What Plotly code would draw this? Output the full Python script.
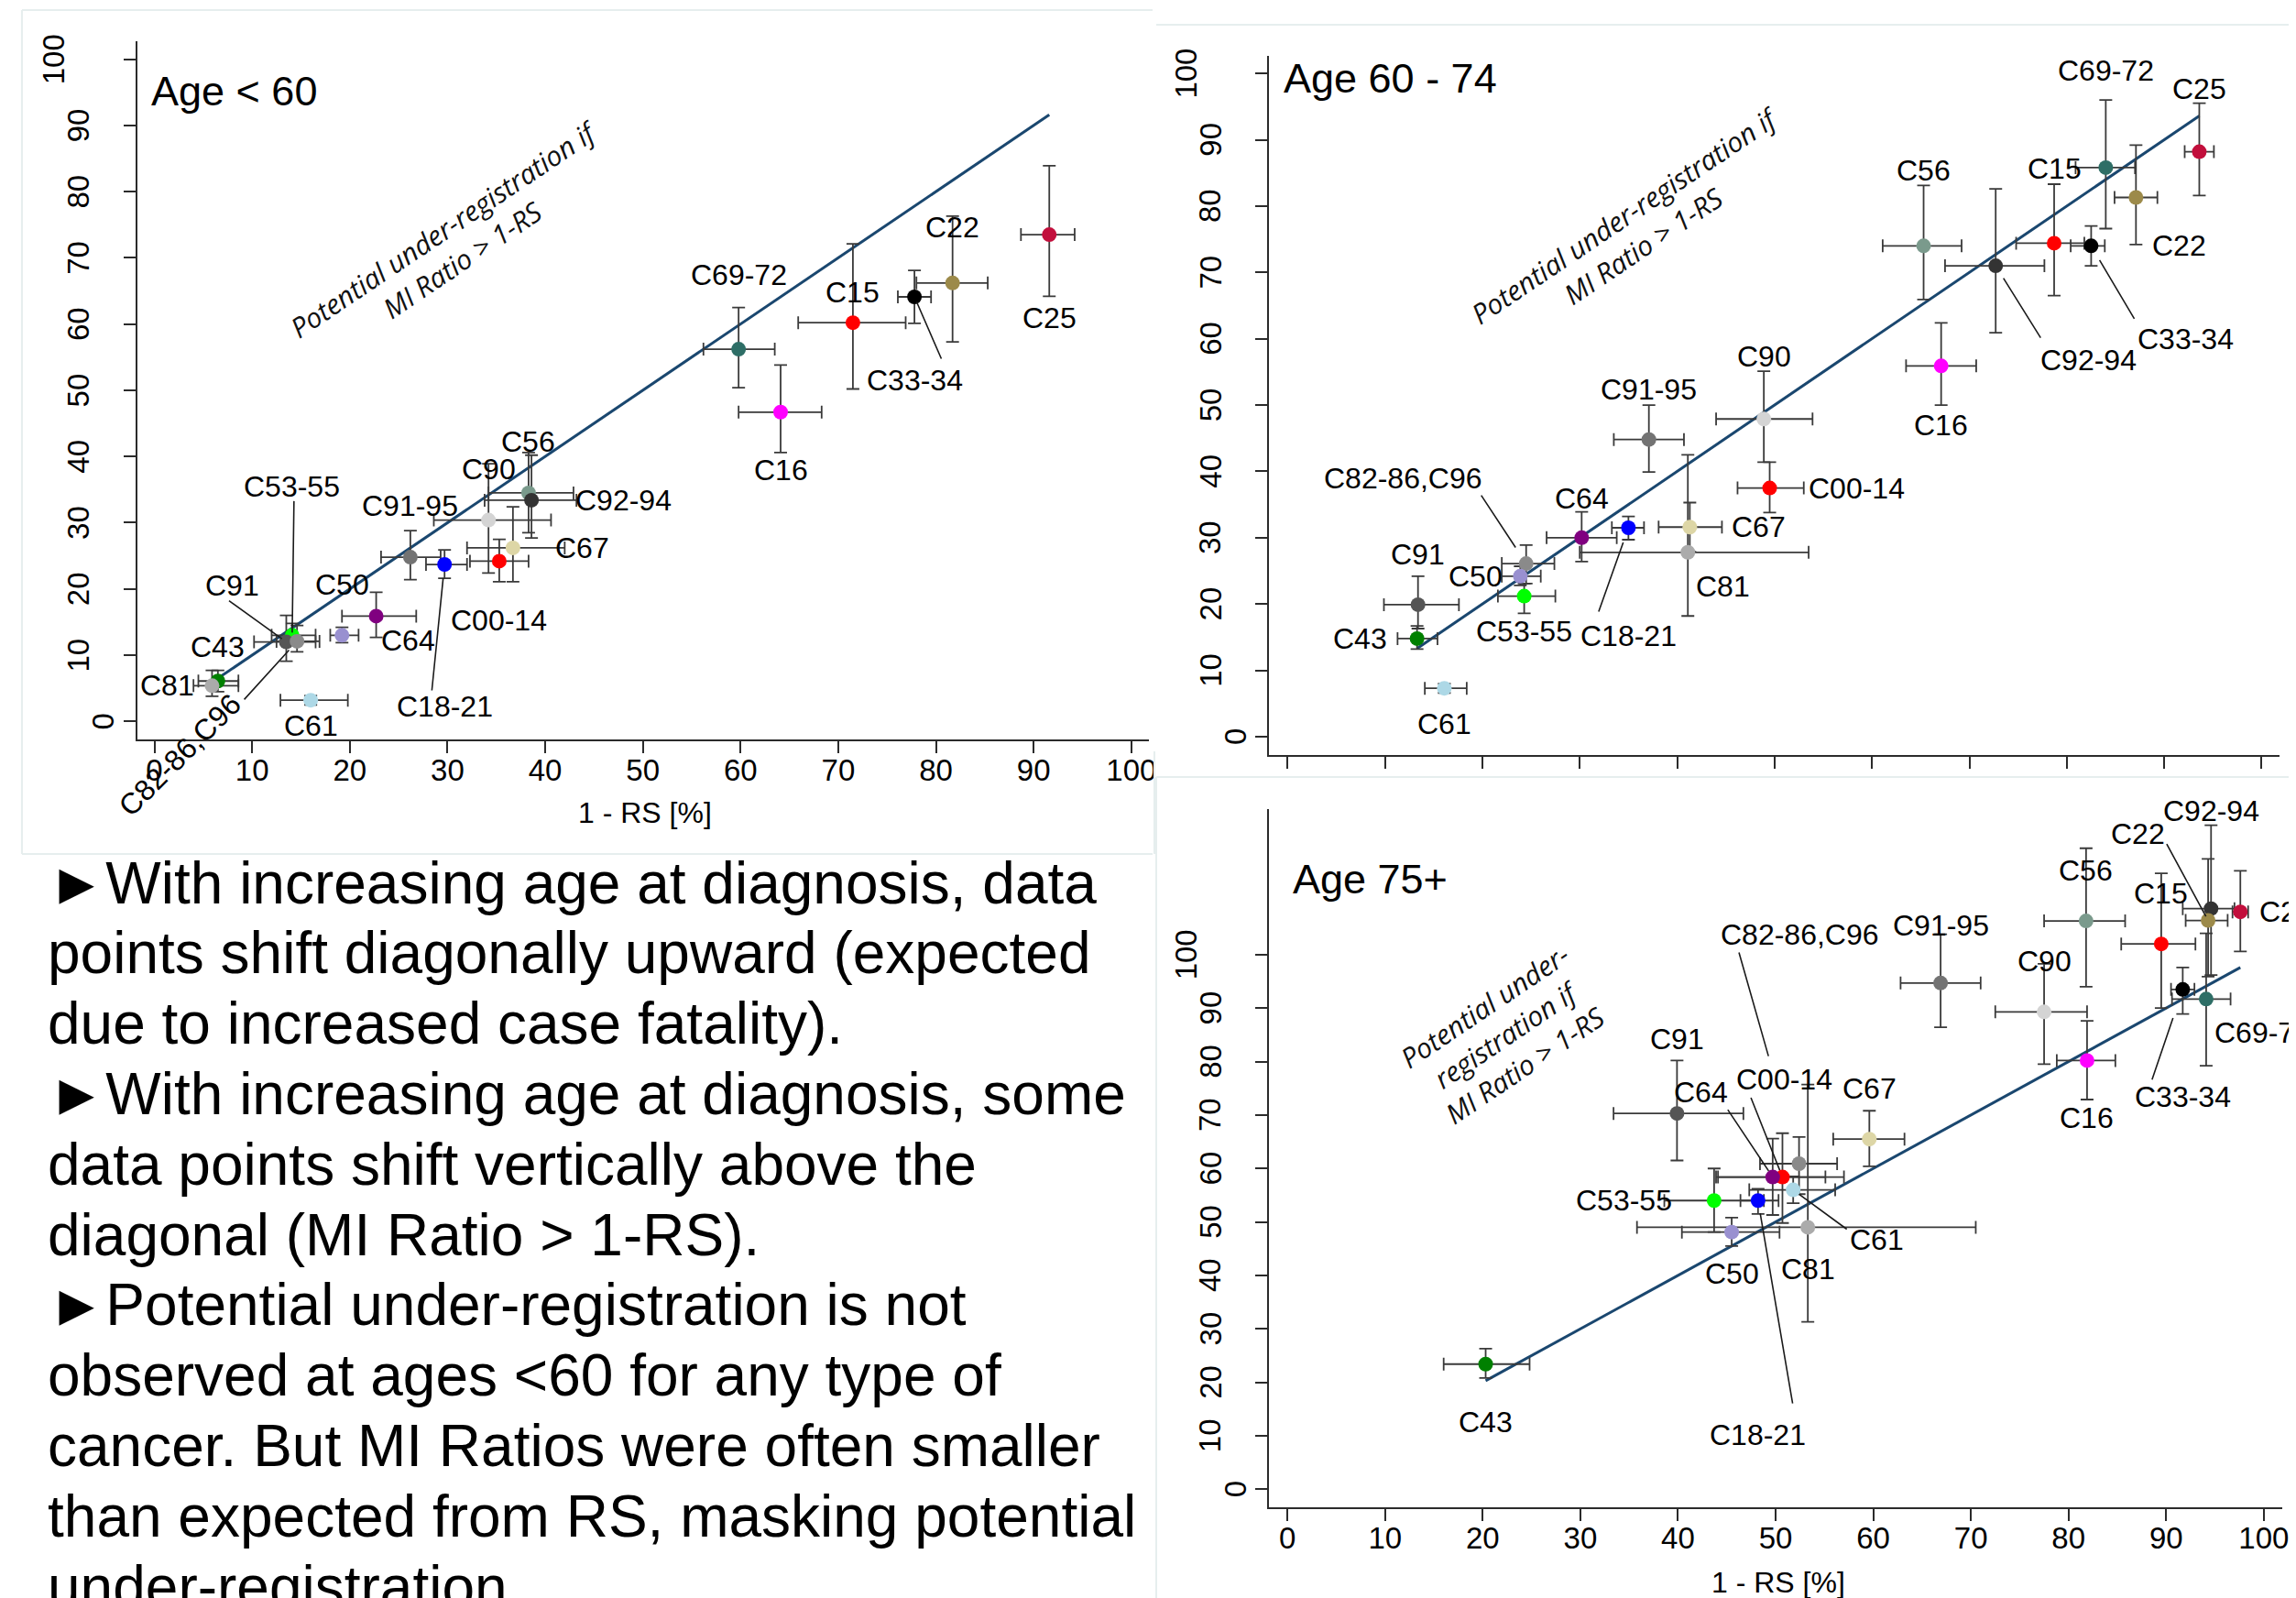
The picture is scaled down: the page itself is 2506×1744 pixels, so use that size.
import plotly.graph_objects as go

W, H = 2506, 1744
SANS = "Liberation Sans, Arial, Helvetica, sans-serif"

# ------------------------------------------------------------------ data
# Age < 60
p1_codes = ["C53-55", "C25", "C22", "C33-34", "C15", "C69-72", "C16", "C56", "C92-94", "C90",
            "C67", "C00-14", "C18-21", "C91-95", "C64", "C50", "C91", "C82-86,C96", "C43", "C81", "C61"]
p1_x   = [14.1, 91.6, 81.7, 77.8, 71.5, 59.8, 64.1, 38.3, 38.6, 34.2, 36.7, 35.3, 29.7, 26.2, 22.7, 19.2, 13.5, 14.6, 6.5, 5.9, 16.0]
p1_y   = [13.0, 73.5, 66.2, 64.1, 60.2, 56.2, 46.7, 34.5, 33.4, 30.4, 26.2, 24.2, 23.7, 24.8, 15.9, 13.0, 12.0, 12.1, 6.1, 5.4, 3.2]
p1_xlo = [12.0, 88.7, 78.0, 76.1, 65.9, 56.2, 59.8, 34.2, 33.8, 28.6, 32.0, 32.3, 27.8, 23.2, 19.2, 18.0, 10.2, 12.5, 4.5, 4.0, 12.9]
p1_xhi = [16.5, 94.2, 85.3, 79.5, 76.9, 63.5, 68.3, 42.9, 43.2, 40.6, 42.0, 38.3, 32.0, 29.3, 26.8, 20.9, 16.5, 16.9, 8.6, 8.6, 19.8]
p1_ylo = [11.5, 64.2, 57.3, 60.1, 50.2, 50.4, 40.6, 28.5, 27.7, 22.4, 21.1, 21.1, 21.6, 21.4, 12.7, 11.9, 9.1, 10.5, 4.5, 3.8, 2.5]
p1_yhi = [14.8, 83.9, 76.3, 68.1, 72.1, 62.5, 53.8, 40.6, 40.2, 38.9, 32.4, 27.5, 25.9, 28.8, 19.5, 14.2, 16.0, 14.5, 7.7, 7.7, 3.9]

# Age 60 - 74
p2_codes = ["C25", "C69-72", "C22", "C15", "C33-34", "C92-94", "C56", "C16", "C90", "C00-14", "C91-95",
            "C81", "C67", "C18-21", "C64", "C82-86,C96", "C50", "C53-55", "C91", "C43", "C61"]
p2_x   = [93.6, 84.0, 87.1, 78.7, 82.5, 72.7, 65.3, 67.1, 48.9, 49.5, 37.1, 41.1, 41.3, 35.0, 30.2, 24.5, 23.9, 24.3, 13.4, 13.3, 16.1]
p2_y   = [88.2, 85.8, 81.3, 74.4, 74.0, 71.0, 74.0, 55.9, 47.9, 37.5, 44.8, 27.8, 31.6, 31.5, 30.0, 26.1, 24.2, 21.2, 19.9, 14.8, 7.3]
p2_xlo = [92.1, 80.9, 84.9, 74.8, 80.4, 67.5, 61.1, 63.5, 44.0, 46.2, 33.5, 30.0, 38.1, 33.3, 26.6, 22.0, 22.0, 21.6, 9.9, 11.3, 14.1]
p2_xhi = [95.1, 87.0, 89.3, 81.8, 83.9, 77.7, 69.2, 70.7, 53.9, 53.0, 40.7, 53.5, 44.6, 36.6, 33.8, 27.4, 26.0, 27.5, 17.6, 15.4, 18.4]
p2_ylo = [81.6, 76.6, 74.2, 66.5, 71.0, 60.9, 65.9, 50.0, 41.4, 33.8, 39.9, 18.2, 27.9, 29.7, 26.4, 23.1, 22.8, 18.6, 16.3, 13.2, 6.6]
p2_yhi = [95.5, 96.0, 89.2, 83.3, 77.0, 82.6, 83.1, 62.4, 55.1, 41.4, 50.0, 42.5, 35.3, 33.2, 33.9, 28.9, 25.7, 23.1, 24.2, 16.7, 8.0]

# Age 75+
p3_codes = ["C43", "C50", "C53-55", "C18-21", "C81", "C61", "C00-14", "C64", "C82-86,C96", "C67", "C91",
            "C16", "C90", "C91-95", "C69-72", "C33-34", "C15", "C56", "C92-94", "C22", "C25"]
p3_x   = [20.3, 45.5, 43.7, 48.2, 53.3, 51.8, 50.7, 49.7, 52.4, 59.6, 39.9, 81.9, 77.5, 66.9, 94.1, 91.7, 89.5, 81.8, 94.6, 94.3, 97.6]
p3_y   = [23.4, 48.1, 54.0, 54.0, 49.0, 56.0, 58.4, 58.4, 60.9, 65.5, 70.3, 80.2, 89.3, 94.7, 91.7, 93.5, 102.0, 106.3, 108.6, 106.4, 108.0]
p3_xlo = [16.0, 40.4, 38.6, 46.4, 35.8, 47.3, 43.9, 44.1, 48.4, 55.9, 33.4, 78.8, 72.5, 62.8, 90.6, 90.5, 85.4, 77.5, 91.7, 92.0, 96.8]
p3_xhi = [24.8, 50.4, 48.8, 50.3, 70.5, 56.1, 57.0, 55.1, 56.3, 63.2, 46.7, 84.8, 81.9, 71.0, 96.6, 92.9, 93.0, 85.8, 97.0, 96.3, 98.4]
p3_ylo = [20.8, 45.5, 48.1, 51.5, 31.3, 53.5, 49.8, 51.3, 55.2, 60.4, 61.5, 72.9, 79.5, 86.4, 79.2, 88.9, 90.0, 94.0, 96.2, 95.9, 100.6]
p3_yhi = [26.3, 50.8, 60.0, 56.2, 75.7, 58.5, 66.6, 65.6, 65.9, 70.8, 80.2, 87.6, 98.3, 103.8, 104.0, 97.6, 115.2, 119.9, 124.2, 117.9, 115.7]

tick_vals = [0, 10, 20, 30, 40, 50, 60, 70, 80, 90, 100]
panel_titles = ["Age &lt; 60", "Age 60 - 74", "Age 75+"]
x_title = "1 - RS [%]"
note_two = "<i>Potential under-registration if<br>MI Ratio &gt; 1-RS</i>"
note_three = "<i>Potential under-<br>registration if<br>MI Ratio &gt; 1-RS</i>"
text_lines = [
    "\u25BAWith increasing age at diagnosis, data",
    "points shift diagonally upward (expected",
    "due to increased case fatality).",
    "\u25BAWith increasing age at diagnosis, some",
    "data points shift vertically above the",
    "diagonal (MI Ratio &gt; 1-RS).",
    "\u25BAPotential under-registration is not",
    "observed at ages &lt;60 for any type of",
    "cancer. But MI Ratios were often smaller",
    "than expected from RS, masking potential",
    "under-registration",
]

# ------------------------------------------------------------------ styles
COLORS = {
    "C25": "#c20f3c", "C22": "#9c8a4a", "C33-34": "#000000", "C15": "#ff0000",
    "C69-72": "#2e6e66", "C16": "#ff00ff", "C56": "#7a9a8c", "C92-94": "#333333",
    "C90": "#d4d4d4", "C67": "#ddd6a6", "C00-14": "#ff0000", "C18-21": "#0000ff",
    "C91-95": "#737373", "C64": "#800080", "C50": "#9990d0", "C53-55": "#00ff00",
    "C91": "#555555", "C82-86,C96": "#8a8a8a", "C43": "#008000", "C81": "#ababab",
    "C61": "#add8e6",
}
LABEL_SIZE = 32
TICK_SIZE = 33

# label offsets in screen px: (dx, dy-down, leader(tail dx, tail dy, standoff) or None, angle)
LAB1 = {
    "C25": (0, 91, None, 0), "C22": (0, -61, None, 0), "C33-34": (0, 91, (30, 69, 6), 0),
    "C15": (0, -33, None, 0), "C69-72": (0, -81, None, 0), "C16": (0, 63, None, 0),
    "C56": (0, -56, None, 0), "C92-94": (100, 0, None, 0), "C90": (0, -56, None, 0),
    "C91-95": (0, -56, None, 0), "C67": (76, 0, None, 0), "C00-14": (0, 65, None, 0),
    "C18-21": (0, 155, (-14, 139, 15), 0), "C64": (35, 27, None, 0), "C50": (0, -55, None, 0),
    "C53-55": (0, -162, (2, -148, 3), 0), "C91": (-59, -62, (-64, -46, 6), 0),
    "C43": (0, -37, None, 0), "C81": (-49, 0, None, 0), "C61": (0, 28, None, 0),
    "C82-86,C96": (-128, 124, (-59, 65, 13), -45),
}
LAB2 = {
    "C69-72": (0, -106, None, 0), "C25": (0, -69, None, 0), "C15": (0, -81, None, 0),
    "C22": (47, 53, None, 0), "C33-34": (103, 102, (48, 81, 18), 0),
    "C92-94": (101, 103, (50, 80, 16), 0), "C56": (0, -82, None, 0), "C16": (0, 65, None, 0),
    "C90": (0, -68, None, 0), "C00-14": (95, 0, None, 0), "C91-95": (0, -55, None, 0),
    "C67": (75, 0, None, 0), "C81": (38, 37, None, 0), "C18-21": (0, 118, (-33, 93, 17), 0),
    "C64": (0, -43, None, 0), "C82-86,C96": (-134, -93, (-50, -76, 21), 0),
    "C50": (-49, 0, None, 0), "C53-55": (0, 38, None, 0), "C91": (0, -55, None, 0),
    "C43": (-62, 0, None, 0), "C61": (0, 39, None, 0),
}
LAB3 = {
    "C92-94": (0, -107, None, 0), "C22": (-77, -95, (-46, -85, 5), 0), "C25": (50, 0, None, 0),
    "C56": (0, -55, None, 0), "C15": (0, -55, None, 0), "C91-95": (0, -63, None, 0),
    "C90": (0, -55, None, 0), "C69-72": (62, 37, None, 0), "C33-34": (0, 117, (-34, 100, 33), 0),
    "C16": (0, 63, None, 0), "C82-86,C96": (1, -250, (-66, -232, 122), 0),
    "C64": (-78, -93, (-50, -75, 8), 0), "C00-14": (2, -107, (-35, -88, 8), 0),
    "C67": (0, -55, None, 0), "C91": (0, -81, None, 0), "C53-55": (-98, 0, None, 0),
    "C61": (91, 54, (60, 44, 8), 0), "C50": (0, 45, None, 0), "C81": (0, 46, None, 0),
    "C18-21": (0, 256, (38, 223, 14), 0), "C43": (0, 63, None, 0),
}

# panel geometry in screen pixels (axis lines) + data ranges
panels = [
    dict(codes=p1_codes, x=p1_x, y=p1_y, xlo=p1_xlo, xhi=p1_xhi, ylo=p1_ylo, yhi=p1_yhi, lab=LAB1,
         xs="x", ys="y", xpx=(142, 1250), ypx=(37, 799), xr=[-1.78, 101.8], yr=[-2.72, 102.7],
         xlabels=True, title_pos=(155, 92), note=note_two, note_pos=(489, 258), xt_pos=(698, 879)),
    dict(codes=p2_codes, x=p2_x, y=p2_y, xlo=p2_xlo, xhi=p2_xhi, ylo=p2_ylo, yhi=p2_yhi, lab=LAB2,
         xs="x2", ys="y2", xpx=(1381.7, 2488), ypx=(53.3, 816), xr=[-1.875, 101.84], yr=[-2.76, 102.6],
         xlabels=False, title_pos=(1395, 78), note=note_two, note_pos=(1782, 243), xt_pos=None),
    dict(codes=p3_codes, x=p3_x, y=p3_y, xlo=p3_xlo, xhi=p3_xhi, ylo=p3_ylo, yhi=p3_yhi, lab=LAB3,
         xs="x3", ys="y3", xpx=(1381.7, 2490.7), ypx=(874.6, 1637.3), xr=[-1.87, 101.87], yr=[-3.43, 127.3],
         xlabels=True, title_pos=(1405, 952), note=note_three, note_pos=(1639, 1122), xt_pos=(1939, 1719)),
]

def px(xp):
    return xp / W

def py(yp):
    return 1 - yp / H

fig = go.Figure()
annotations = []
layout_axes = {}
ERR = "#3a3a3a"

for i, p in enumerate(panels):
    xs, ys = p["xs"], p["ys"]
    # diagonal reference line y = x, spanning the plotted cancers (from C43 to the largest 1-RS)
    x0 = p["x"][p["codes"].index("C43")]
    x1 = max(p["x"])
    fig.add_trace(go.Scatter(x=[x0, x1], y=[x0, x1], mode="lines", xaxis=xs, yaxis=ys,
                             line=dict(color="#1a476f", width=3), hoverinfo="skip", showlegend=False))
    fig.add_trace(go.Scatter(
        x=p["x"], y=p["y"], mode="markers", xaxis=xs, yaxis=ys, showlegend=False,
        text=p["codes"],
        marker=dict(size=16, color=[COLORS[c] for c in p["codes"]], line=dict(width=0)),
        error_x=dict(type="data", symmetric=False,
                     array=[h - v for h, v in zip(p["xhi"], p["x"])],
                     arrayminus=[v - l for l, v in zip(p["xlo"], p["x"])],
                     color=ERR, thickness=1.8, width=7),
        error_y=dict(type="data", symmetric=False,
                     array=[h - v for h, v in zip(p["yhi"], p["y"])],
                     arrayminus=[v - l for l, v in zip(p["ylo"], p["y"])],
                     color=ERR, thickness=1.8, width=7),
    ))

    suffix = "" if i == 0 else str(i + 1)
    common = dict(showline=True, linecolor="#2b2b2b", linewidth=2, ticks="outside", ticklen=13,
                  tickwidth=2, tickcolor="#2b2b2b", showgrid=False, zeroline=False,
                  tickvals=tick_vals, fixedrange=True,
                  tickfont=dict(family=SANS, size=TICK_SIZE, color="black"))
    layout_axes["xaxis" + suffix] = dict(common, domain=[px(p["xpx"][0]), px(p["xpx"][1])], range=p["xr"],
                                         anchor=ys, showticklabels=p["xlabels"], ticklabelstandoff=-10)
    layout_axes["yaxis" + suffix] = dict(common, domain=[py(p["ypx"][1]), py(p["ypx"][0])], range=p["yr"],
                                         anchor=xs, showticklabels=False)

    # rotated y tick labels
    for v in tick_vals:
        s = str(v)
        cx = p["xpx"][0] - 37.5 - 26.8 * (len(s) - 1)
        annotations.append(dict(x=px(cx), xref="paper", y=v, yref=ys, text=s, textangle=-90,
                                showarrow=False, xanchor="center", yanchor="middle",
                                font=dict(family=SANS, size=TICK_SIZE, color="black")))

    # panel title
    tx, ty = p["title_pos"]
    annotations.append(dict(x=px(tx), y=py(ty), xref="paper", yref="paper", text=panel_titles[i],
                            showarrow=False, xanchor="left", yanchor="middle",
                            font=dict(family=SANS, size=45, color="black")))
    # diagonal note
    nx, ny = p["note_pos"]
    annotations.append(dict(x=px(nx), y=py(ny), xref="paper", yref="paper", text=p["note"],
                            showarrow=False, xanchor="center", yanchor="middle", textangle=-34,
                            align="center", font=dict(family="Open Sans, sans-serif", size=30, color="#111111")))
    # x-axis title
    if p["xt_pos"]:
        ax_, ay_ = p["xt_pos"]
        annotations.append(dict(x=px(ax_), y=py(ay_), xref="paper", yref="paper", text=x_title,
                                showarrow=False, xanchor="center", yanchor="middle",
                                font=dict(family=SANS, size=32, color="black")))

    # point labels + leader lines
    for c, xv, yv in zip(p["codes"], p["x"], p["y"]):
        dx, dy, leader, ang = p["lab"][c]
        annotations.append(dict(x=xv, y=yv, xref=xs, yref=ys, text=c, showarrow=False,
                                xshift=dx, yshift=-dy, textangle=ang,
                                xanchor="center", yanchor="middle",
                                font=dict(family=SANS, size=LABEL_SIZE, color="black")))
        if leader:
            lx, ly, so = leader
            annotations.append(dict(x=xv, y=yv, xref=xs, yref=ys, text="", showarrow=True,
                                    arrowhead=0, ax=lx, ay=ly, standoff=so, arrowwidth=1.6,
                                    arrowcolor="#1a1a1a", font=dict(size=1)))

# bullet text block (one annotation per slide line)
for k, line in enumerate(text_lines):
    base = 977.5 + 76.8 * k
    annotations.append(dict(x=px(42), y=py(base - 22), xref="paper", yref="paper", text=line,
                            showarrow=False, xanchor="left", yanchor="middle",
                            font=dict(family=SANS, size=64, color="black")))

FRAME = dict(color="#e6eeee", width=2)
shapes = [
    # faint slide frames around the pasted panels
    dict(type="line", xref="paper", yref="paper", x0=px(16), x1=px(1254), y0=py(3), y1=py(3), line=FRAME),
    dict(type="line", xref="paper", yref="paper", x0=px(16), x1=px(1254), y0=py(924), y1=py(924), line=FRAME),
    dict(type="line", xref="paper", yref="paper", x0=px(16), x1=px(16), y0=py(3), y1=py(924), line=FRAME),
    dict(type="rect", xref="paper", yref="paper", x0=px(1256), x1=px(1300), y0=py(870), y1=py(812),
         fillcolor="white", line=dict(width=0), layer="above"),
    dict(type="line", xref="paper", yref="paper", x0=px(1256), x1=px(1256), y0=py(812), y1=py(924), line=FRAME),
    dict(type="line", xref="paper", yref="paper", x0=px(1258), x1=px(2506), y0=py(19), y1=py(19), line=FRAME),
    dict(type="line", xref="paper", yref="paper", x0=px(1258), x1=px(2506), y0=py(840), y1=py(840), line=FRAME),
    dict(type="line", xref="paper", yref="paper", x0=px(1258), x1=px(1258), y0=py(840), y1=py(1744), line=FRAME),
]

fig.update_layout(
    width=W, height=H, margin=dict(l=0, r=0, t=0, b=0),
    paper_bgcolor="white", plot_bgcolor="white", showlegend=False,
    annotations=annotations, shapes=shapes, **layout_axes,
)

fig.write_html("out.html")
